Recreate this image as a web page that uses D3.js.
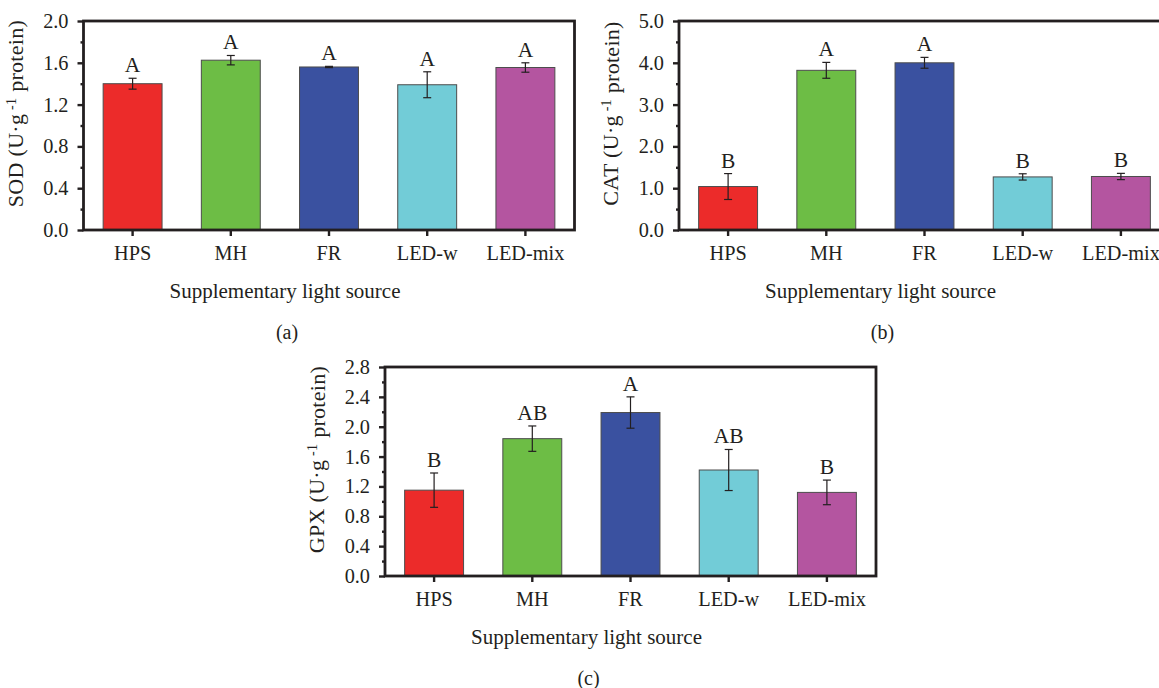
<!DOCTYPE html>
<html>
<head>
<meta charset="utf-8">
<script src="https://cdn.jsdelivr.net/npm/d3@7"></script>
<style>
  body { margin: 0; background: #fff; }
  svg { display: block; font-family: "Liberation Serif", "Times New Roman", serif; }
</style>
</head>
<body>
<svg id="chart" width="1159" height="688"></svg>
<script>
// Categories shared by all three panels
const categories = ["HPS", "MH", "FR", "LED-w", "LED-mix"];
const barColors = ["#ec2b2a", "#6dbd45", "#3a51a0", "#72ccd7", "#b455a0"];

// (a) SOD
const sodMeans = [1.40, 1.625, 1.56, 1.39, 1.555];
const sodErrors = [0.052, 0.045, 0.006, 0.124, 0.045];
const sodLetters = ["A", "A", "A", "A", "A"];
const sodTicks = [0, 0.4, 0.8, 1.2, 1.6, 2.0];

// (b) CAT
const catMeans = [1.04, 3.82, 4.00, 1.27, 1.28];
const catErrors = [0.31, 0.19, 0.13, 0.075, 0.075];
const catLetters = ["B", "A", "A", "B", "B"];
const catTicks = [0, 1, 2, 3, 4, 5];

// (c) GPX
const gpxMeans = [1.15, 1.84, 2.19, 1.42, 1.12];
const gpxErrors = [0.23, 0.17, 0.21, 0.275, 0.165];
const gpxLetters = ["B", "AB", "A", "AB", "B"];
const gpxTicks = [0, 0.4, 0.8, 1.2, 1.6, 2.0, 2.4, 2.8];

const svg = d3.select("#chart");
const ink = "#231f20";
const plotW = 491;
const plotH = 209;

function drawPanel(opts) {
    const g = svg.append("g").attr("transform", `translate(${opts.left},${opts.top})`);

    const x = d3.scaleBand().domain(categories).range([0, plotW]).paddingInner(0.4).paddingOuter(0.2);
    const yMax = opts.ticks[opts.ticks.length - 1];
    const y = d3.scaleLinear().domain([0, yMax]).range([plotH, 0]);

    // minor ticks halfway between the major ones
    const minor = opts.ticks.slice(1).map((t, i) => (t + opts.ticks[i]) / 2);

    // bars
    g.selectAll("rect.bar")
        .data(categories)
        .join("rect")
        .attr("class", "bar")
        .attr("x", d => x(d))
        .attr("width", x.bandwidth())
        .attr("y", (d, i) => y(opts.means[i]))
        .attr("height", (d, i) => plotH - y(opts.means[i]))
        .attr("fill", (d, i) => barColors[i])
        .attr("stroke", "#4d4d4d")
        .attr("stroke-width", 1);

    // error bars
    const err = g.selectAll("g.err")
        .data(categories)
        .join("g")
        .attr("class", "err")
        .attr("stroke", ink)
        .attr("stroke-width", 1.2);
    const cx = d => x(d) + x.bandwidth() / 2;
    err.append("line")
        .attr("x1", cx).attr("x2", cx)
        .attr("y1", (d, i) => y(opts.means[i] + opts.errors[i]))
        .attr("y2", (d, i) => y(opts.means[i] - opts.errors[i]));
    err.append("line")
        .attr("x1", d => cx(d) - 4).attr("x2", d => cx(d) + 4)
        .attr("y1", (d, i) => y(opts.means[i] + opts.errors[i]))
        .attr("y2", (d, i) => y(opts.means[i] + opts.errors[i]));
    err.append("line")
        .attr("x1", d => cx(d) - 4).attr("x2", d => cx(d) + 4)
        .attr("y1", (d, i) => y(opts.means[i] - opts.errors[i]))
        .attr("y2", (d, i) => y(opts.means[i] - opts.errors[i]));

    // significance letters
    g.selectAll("text.letter")
        .data(categories)
        .join("text")
        .attr("class", "letter")
        .attr("x", cx)
        .attr("y", (d, i) => y(opts.means[i] + opts.errors[i]) - 6)
        .attr("text-anchor", "middle")
        .attr("font-size", 21.5)
        .attr("fill", ink)
        .text((d, i) => opts.letters[i]);

    // y axis: major + minor ticks
    g.append("g")
        .call(d3.axisLeft(y).tickValues(opts.ticks).tickSize(6).tickPadding(9).tickFormat(d3.format(".1f")));
    g.append("g")
        .call(d3.axisLeft(y).tickValues(minor).tickSize(3).tickFormat(""));

    // x axis
    g.append("g")
        .attr("transform", `translate(0,${plotH})`)
        .call(d3.axisBottom(x).tickSize(6).tickPadding(10));

    g.selectAll(".domain").remove();
    g.selectAll(".tick line").attr("stroke", ink).attr("stroke-width", 2.4);
    g.selectAll(".tick text")
        .attr("font-size", 20.3)
        .attr("font-family", "Liberation Serif, Times New Roman, serif")
        .attr("fill", ink);

    // frame
    g.append("rect")
        .attr("width", plotW)
        .attr("height", plotH)
        .attr("fill", "none")
        .attr("stroke", ink)
        .attr("stroke-width", 2.8);

    // y title with superscript
    const yt = g.append("text")
        .attr("transform", `translate(-61,${plotH / 2 - 12}) rotate(-90)`)
        .attr("text-anchor", "middle")
        .attr("font-size", 22)
        .attr("letter-spacing", 0.3)
        .attr("fill", ink);
    yt.append("tspan").text(`${opts.yName} (U·g`);
    yt.append("tspan").attr("font-size", 14).attr("dy", "-0.5em").text(" -1");
    yt.append("tspan").attr("dy", "0.35em").text(" protein)");

    // x title and panel label
    g.append("text")
        .attr("x", plotW / 2 - 44)
        .attr("y", plotH + 68)
        .attr("text-anchor", "middle")
        .attr("font-size", 21)
        .attr("fill", ink)
        .text("Supplementary light source");

    g.append("text")
        .attr("x", plotW / 2 - 42)
        .attr("y", plotH + 109)
        .attr("text-anchor", "middle")
        .attr("font-size", 20)
        .attr("fill", ink)
        .text(opts.label);
}

drawPanel({ left: 83.5, top: 21, means: sodMeans, errors: sodErrors, letters: sodLetters,
            ticks: sodTicks, yName: "SOD", label: "(a)" });
drawPanel({ left: 679, top: 21, means: catMeans, errors: catErrors, letters: catLetters,
            ticks: catTicks, yName: "CAT", label: "(b)" });
drawPanel({ left: 385, top: 367, means: gpxMeans, errors: gpxErrors, letters: gpxLetters,
            ticks: gpxTicks, yName: "GPX", label: "(c)" });
</script>
</body>
</html>
